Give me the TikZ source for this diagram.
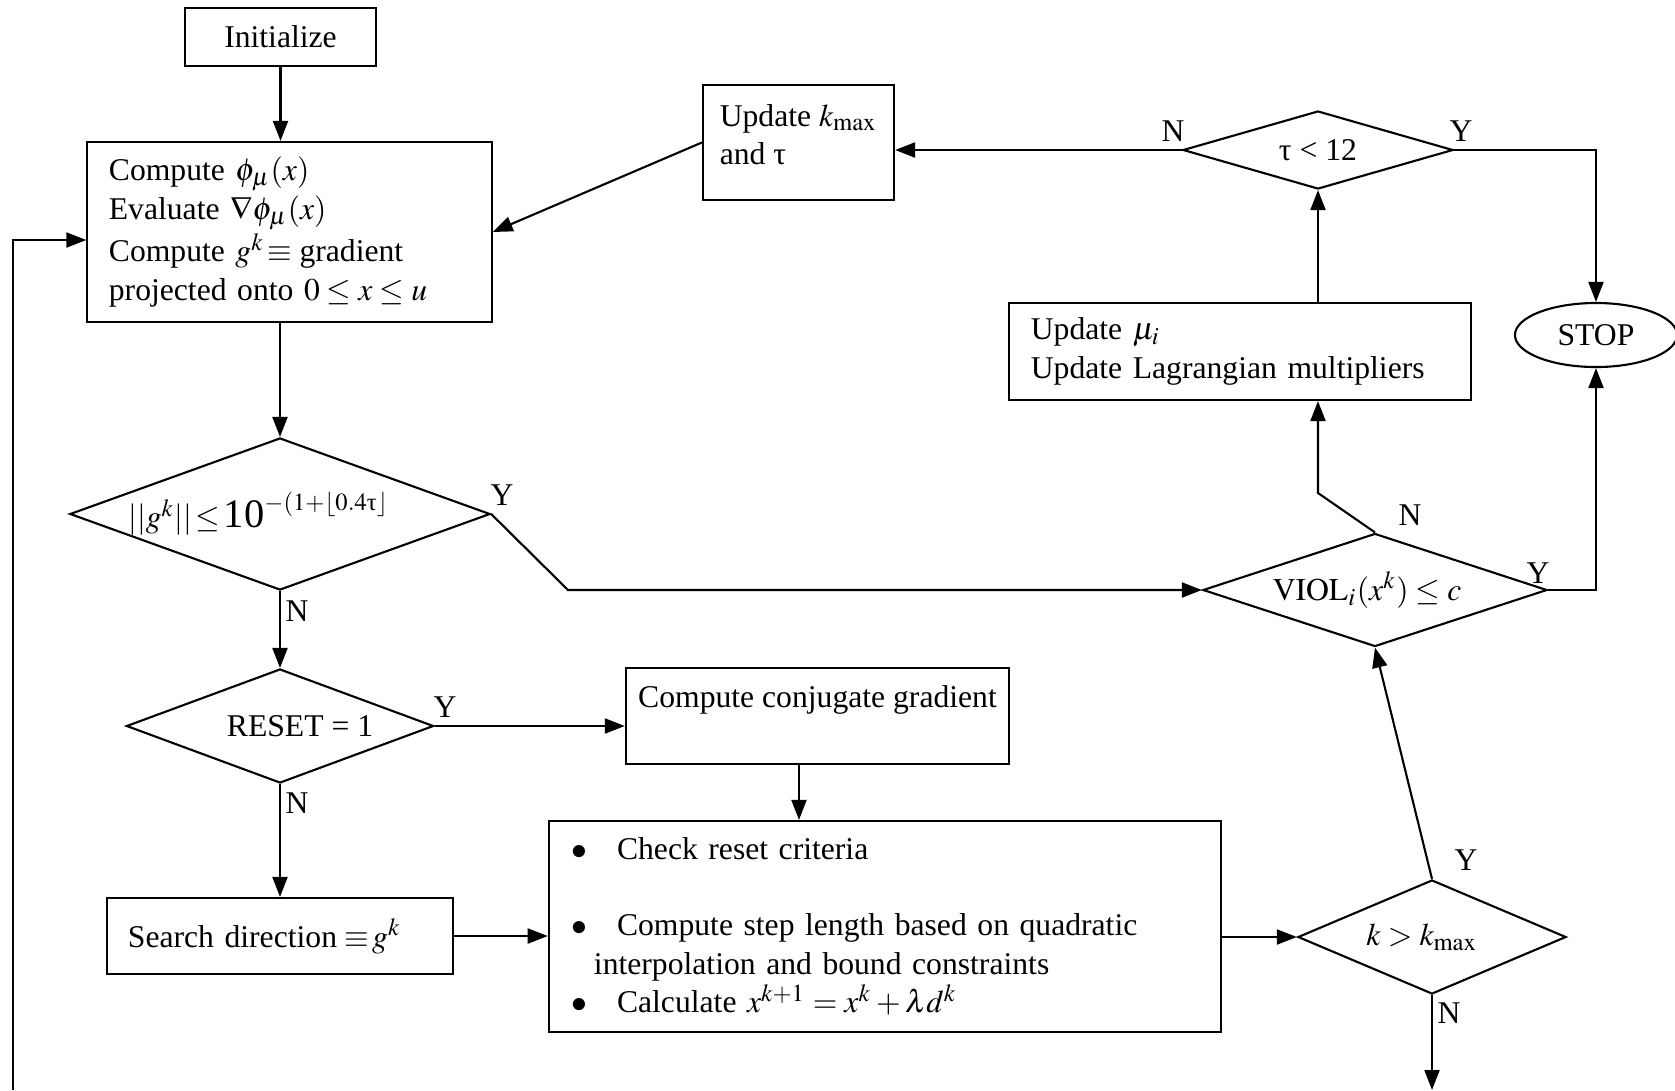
\documentclass[tikz,border=0pt]{standalone}
\usepackage{amsmath}
\usepackage{mathptmx}
\usepackage{fontspec}
\setmainfont{Liberation Serif}
\usetikzlibrary{shapes.geometric,arrows.meta}

\begin{document}
\begin{tikzpicture}[x=0.01cm, y=-0.01cm, line width=0.6pt,
    font=\fontsize{9}{11}\selectfont,
    >={Triangle[length=0.2cm,width=0.15cm]},
    block/.style={draw, rectangle, inner ysep=0pt},
    decision/.style={draw, diamond, inner sep=0pt},
    yn/.style={inner sep=0pt}]
  \useasboundingbox (0,0) rectangle (1675,1090);

  % left column
  \node[block, minimum width=1.91cm, minimum height=0.58cm] (init) at (280.5,37) {Initialize};
  \node[block, minimum width=4.04cm, minimum height=1.8cm, text width=3.61cm, inner xsep=0.215cm, align=left] (compute) at (289.5,232)
    {Compute $\phi_\mu(x)$\\ Evaluate $\nabla\phi_\mu(x)$\\ Compute $g^k\!\equiv\!$ gradient\\ projected onto $0\le x\le u$};
  \node[decision, aspect=2.76, minimum width=4.2cm, minimum height=1.52cm] (gnorm) at (280,514)
    {\hspace*{-12pt}$||g^k||\!\le\!\mbox{\fontsize{11.5}{12}\selectfont 10}^{-(1+\lfloor 0.4\text{τ}\rfloor}$};
  \node[decision, aspect=2.7, minimum width=3.07cm, minimum height=1.14cm] (reset) at (280,726) {RESET = 1\hspace*{-11.4pt}};
  \node[block, minimum width=3.46cm, minimum height=0.76cm, text width=3.04cm, inner xsep=0.21cm, align=left] (search) at (280,936)
    {Search direction $\!\equiv\! g^k$};

  % middle
  \node[block, minimum width=1.91cm, minimum height=1.15cm, align=left] (kmaxupd) at (798.5,142.5) {Update $k_{\max}$\\ and τ\\[-6.4pt]};
  \node[block, minimum width=3.83cm, minimum height=0.96cm, align=center] (conjgrad) at (817.5,716) {Compute conjugate gradient\\ \mbox{}};
  \node[block, minimum width=6.72cm, minimum height=2.11cm, text width=6.26cm, inner xsep=0.23cm, align=left] (check) at (885,926.5)
    {$\bullet$\hspace{8.35pt}Check reset criteria\\[10.5pt]
     $\bullet$\hspace{8.35pt}Compute step length based on quadratic\\
     \hspace*{6.3pt}interpolation and bound constraints\\
     $\bullet$\hspace{8.35pt}Calculate $x^{k+1}=x^k+\lambda d^k$};

  % right column
  \node[decision, aspect=3.46, minimum width=2.7cm, minimum height=0.78cm] (tau) at (1318,150) {τ < 12};
  \node[draw, ellipse, inner sep=0pt, minimum width=1.62cm, minimum height=0.64cm] (stop) at (1596,335) {STOP};
  \node[block, minimum width=4.62cm, minimum height=0.97cm, text width=4.18cm, inner xsep=0.22cm, align=left] (muupd) at (1240,351.5)
    {Update $\mu_i$\\ Update Lagrangian multipliers};
  \node[decision, aspect=3.04, minimum width=3.44cm, minimum height=1.13cm] (viol) at (1375,590) {\hspace*{-4.5pt}$\mathrm{VIOL}_i(x^k)\le c$};
  \node[decision, aspect=2.35, minimum width=2.68cm, minimum height=1.14cm] (kmax) at (1432,937) {\hspace*{-5.7pt}$k>k_{\max}$};

  \coordinate (violbend) at (1318,493);
  \coordinate (gnormbend) at (568,590);
  \coordinate (loopend) at (1432,1090);
  \coordinate (loopstart) at (13,1090);

  % connectors
  \draw[->] (init.south) -- (init.south |- compute.north);
  \draw[->] (gnorm.north |- compute.south) -- (gnorm.north);
  \draw[->] (kmaxupd.west) -- (compute.east);
  \draw[->] (tau.west) -- (tau.west -| kmaxupd.east);
  \draw[->] (tau.east) -| (stop.north);
  \draw[->] (tau.south |- muupd.north) -- (tau.south);
  \draw[->] (viol.north) -- (violbend) -- (violbend |- muupd.south);
  \draw[->] (viol.east) -| (stop.south);
  \draw[->] (gnorm.east) -- (gnormbend) -- (viol.west);
  \draw[->] (gnorm.south) -- (reset.north);
  \draw[->] (reset.east) -- (reset.east -| conjgrad.west);
  \draw[->] (reset.south) -- (search.north);
  \draw[->] ([xshift=-0.185cm]conjgrad.south) -- ([xshift=-0.185cm]conjgrad.south |- check.north);
  \draw[->] (search.east) -- (search.east -| check.west);
  \draw[->] (check.east |- kmax.west) -- (kmax.west);
  \draw[->] (kmax.north) -- (viol.south);
  \draw[->] (kmax.south) -- (loopend);
  \draw[->] (loopstart) |- ([yshift=-0.08cm]compute.west);

  % Y/N labels
  \node[yn] (tauN) at (1173,131) {N};
  \node[yn] (tauY) at (1461,131) {Y};
  \node[yn] (violN) at (1410,515) {N};
  \node[yn] (violY) at (1538,573) {Y};
  \node[yn] (gnormY) at (502,495) {Y};
  \node[yn] (gnormN) at (297,611) {N};
  \node[yn] (resetY) at (445,707) {Y};
  \node[yn] (resetN) at (297,803) {N};
  \node[yn] (kmaxY) at (1466,860) {Y};
  \node[yn] (kmaxN) at (1449,1013) {N};
\end{tikzpicture}
\end{document}
